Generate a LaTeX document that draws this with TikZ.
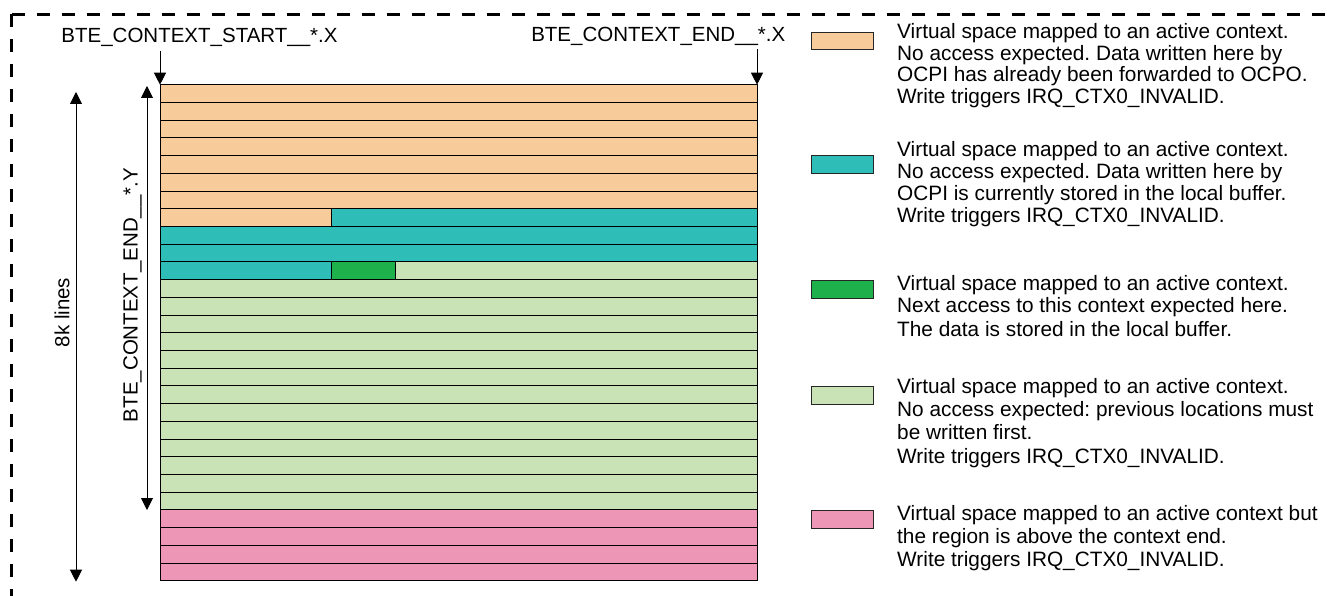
\documentclass[tikz,border=0pt]{standalone}
\usepackage{fontspec}
\setmainfont{Liberation Sans}
\usetikzlibrary{arrows.meta}
\definecolor{corange}{RGB}{247,203,154}
\definecolor{cteal}{RGB}{46,190,183}
\definecolor{cgreen}{RGB}{29,176,75}
\definecolor{clight}{RGB}{201,227,183}
\definecolor{cpink}{RGB}{237,150,181}
\frenchspacing
\begin{document}
\begin{tikzpicture}[x=1pt,y=-1pt,
  cell/.style={draw=black,line width=0.9pt},
  dimarrow/.style={line width=0.9pt,-{Triangle[width=12pt,length=12pt]}},
  dimboth/.style={line width=0.9pt,{Triangle[width=12pt,length=12pt]}-{Triangle[width=12pt,length=12pt]}},
  lab/.style={font=\fontsize{20.5}{22.5}\selectfont, inner sep=0pt},
  legbox/.style={draw=black!85,line width=0.9pt,minimum width=62.6pt,minimum height=17.6pt,inner sep=0pt,anchor=north west},
  legtxt/.style={font=\fontsize{20.8}{22.5}\selectfont, inner sep=0pt,anchor=base west},
  frame/.style={line width=2.5pt,dash pattern=on 13pt off 12pt}
]
\useasboundingbox (0,0) rectangle (1327,596);
% dashed frame
\coordinate (fc) at (11.7,14.3);
\coordinate (fr) at (1327,14.3);
\coordinate (fb) at (11.7,596);
\draw[frame] (fc) -- (fr);
\draw[frame] (fc) -- (fb);

% grid rows
\def\rh{17.714}
\foreach \i in {0,...,6}
  \filldraw[cell,fill=corange] (160,{84.7+\i*\rh}) rectangle (757,{84.7+(\i+1)*\rh});
\filldraw[cell,fill=corange] (160,{84.7+7*\rh}) rectangle (331,{84.7+8*\rh});
\filldraw[cell,fill=cteal] (331,{84.7+7*\rh}) rectangle (757,{84.7+8*\rh});
\foreach \i in {8,9}
  \filldraw[cell,fill=cteal] (160,{84.7+\i*\rh}) rectangle (757,{84.7+(\i+1)*\rh});
\filldraw[cell,fill=cteal] (160,{84.7+10*\rh}) rectangle (331,{84.7+11*\rh});
\filldraw[cell,fill=cgreen] (331,{84.7+10*\rh}) rectangle (395,{84.7+11*\rh});
\filldraw[cell,fill=clight] (395,{84.7+10*\rh}) rectangle (757,{84.7+11*\rh});
\foreach \i in {11,...,23}
  \filldraw[cell,fill=clight] (160,{84.7+\i*\rh}) rectangle (757,{84.7+(\i+1)*\rh});
\foreach \i in {24,...,27}
  \filldraw[cell,fill=cpink] (160,{84.7+\i*\rh}) rectangle (757,{84.7+(\i+1)*\rh});

% top labels and arrows
\node[lab,anchor=base] (startx) at (199.5,42.5) {BTE\_CONTEXT\_START\_\_*.X};
\node[lab,anchor=base] (endx) at (658.3,41.7) {BTE\_CONTEXT\_END\_\_*.X};
\coordinate (sxa) at (160,51);
\coordinate (sxb) at (160,84.7);
\coordinate (exa) at (757,49.5);
\coordinate (exb) at (757,84.7);
\draw[dimarrow] (sxa) -- (sxb);
\draw[dimarrow] (exa) -- (exb);

% left dimension arrows
\coordinate (kta) at (76,92);
\coordinate (ktb) at (76,581.7);
\draw[dimboth] (kta) -- (ktb);
\node[lab,rotate=90,anchor=base] (klines) at (69.3,312.5) {8k lines};
\coordinate (eya) at (147,86);
\coordinate (eyb) at (147,510);
\draw[dimboth] (eya) -- (eyb);
\node[lab,rotate=90,anchor=base] (endy) at (137.5,295) {BTE\_CONTEXT\_END\_\_*.Y};

% legend
\node[legbox,fill=corange] (lb1) at (810.7,31.7) {};
\node[legtxt] (l1a) at (897,38.5) {Virtual space mapped to an active context.};
\node[legtxt] (l1b) at (897,60.2) {No access expected. Data written here by};
\node[legtxt] (l1c) at (897,81.9) {OCPI has already been forwarded to OCPO.};
\node[legtxt] (l1d) at (897,103.6) {Write triggers IRQ\_CTX0\_INVALID.};

\node[legbox,fill=cteal] (lb2) at (810.7,155) {};
\node[legtxt] (l2a) at (897,157) {Virtual space mapped to an active context.};
\node[legtxt] (l2b) at (897,178.7) {No access expected. Data written here by};
\node[legtxt] (l2c) at (897,200.4) {OCPI is currently stored in the local buffer.};
\node[legtxt] (l2d) at (897,222.1) {Write triggers IRQ\_CTX0\_INVALID.};

\node[legbox,fill=cgreen] (lb3) at (810.7,280) {};
\node[legtxt] (l3a) at (897,290.7) {Virtual space mapped to an active context.};
\node[legtxt] (l3b) at (897,312.5) {Next access to this context expected here.};
\node[legtxt] (l3c) at (897,336.8) {The data is stored in the local buffer.};

\node[legbox,fill=clight] (lb4) at (810.7,386) {};
\node[legtxt] (l4a) at (897,393.3) {Virtual space mapped to an active context.};
\node[legtxt] (l4b) at (897,416.6) {No access expected: previous locations must};
\node[legtxt] (l4c) at (897,439.9) {be written first.};
\node[legtxt] (l4d) at (897,463.2) {Write triggers IRQ\_CTX0\_INVALID.};

\node[legbox,fill=cpink] (lb5) at (810.7,510) {};
\node[legtxt] (l5a) at (897,520) {Virtual space mapped to an active context but};
\node[legtxt] (l5b) at (897,543.3) {the region is above the context end.};
\node[legtxt] (l5c) at (897,566.6) {Write triggers IRQ\_CTX0\_INVALID.};
\end{tikzpicture}
\end{document}
